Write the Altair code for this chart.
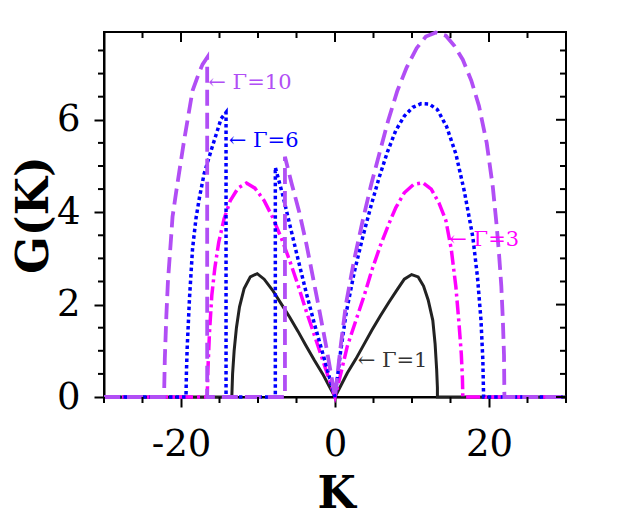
import altair as alt
import pandas as pd

# ---- data ----
k1 = [-30, -13.4, -13.3, -13.1, -12.8, -12.4, -11.8, -11.0, -10.1, -9.2, -8.1, -7.0, -5.9, -4.8, -3.8, -2.7, -1.6, -0.8, 0,
      0.8, 1.6, 2.7, 3.8, 4.8, 5.9, 7.0, 8.1, 9.0, 9.95, 10.8, 11.5, 12.1, 12.7, 13.0, 13.2, 13.3, 13.3, 30]
g1 = [0, 0, 0.5, 1.0, 1.5, 1.95, 2.35, 2.6, 2.67, 2.55, 2.31, 2.02, 1.73, 1.42, 1.12, 0.8, 0.5, 0.25, 0,
      0.26, 0.52, 0.82, 1.15, 1.45, 1.76, 2.05, 2.33, 2.55, 2.65, 2.6, 2.4, 2.1, 1.66, 1.15, 0.6, 0.2, 0, 0]

k3 = [-30, -16.6, -16.5, -16.3, -16.0, -15.6, -15.1, -14.4, -13.6, -12.6, -11.5, -10.4, -9.2, -8.1, -7.0, -5.9, -4.8,
      -3.8, -2.7, -1.6, -0.8, 0, 0.8, 1.6, 2.7, 3.8, 4.8, 5.9, 7.0, 7.9, 9.0, 10.2, 11.4, 12.5, 13.5, 14.4, 15.1,
      15.7, 16.1, 16.4, 16.55, 16.6, 30]
g3 = [0, 0, 0.6, 1.4, 2.2, 2.8, 3.35, 3.86, 4.25, 4.52, 4.63, 4.52, 4.25, 3.89, 3.45, 2.96, 2.42,
      1.89, 1.35, 0.8, 0.4, 0, 0.54, 1.1, 1.65, 2.2, 2.75, 3.28, 3.75, 4.1, 4.42, 4.6, 4.64, 4.5, 4.2, 3.82, 3.2,
      2.38, 1.6, 0.94, 0.4, 0, 0]

k6 = [-30, -19.35, -19.3, -19.2, -18.9, -18.5, -18.05, -17.6, -17.0, -16.1, -15.4, -14.8, -14.15, -14.15, -7.75,
      -7.75, -6.8, -5.9, -4.8, -3.8, -2.7, -1.6, -0.8, 0, 0.7, 1.43, 2.5, 3.6, 4.7, 5.75, 6.8, 7.9, 9.0, 10.1, 11.2,
      12.25, 13.3, 14.5, 15.7, 16.8, 17.9, 18.5, 18.96, 19.2, 19.3, 30]
g6 = [0, 0, 0.5, 1.05, 2.13, 3.21, 3.87, 4.32, 4.83, 5.33, 5.7, 6.02, 6.16, 0, 0,
      4.97, 4.38, 3.75, 2.98, 2.3, 1.6, 0.95, 0.47, 0, 0.95, 1.8, 2.7, 3.46, 4.15, 4.76, 5.3, 5.77, 6.08, 6.27, 6.35,
      6.34, 6.22, 5.85, 5.26, 4.45, 3.46, 2.6, 1.66, 0.8, 0, 0]

k10 = [-30, -22.2, -22.1, -21.9, -21.7, -21.3, -21.1, -20.6, -19.6, -18.5, -17.7, -17.2, -16.6, -16.6, -6.5, -6.5,
       -5.6, -4.64, -3.7, -2.9, -2.0, -1.17, -0.5, 0, 0.7, 1.43, 2.5, 3.6, 4.7, 5.75, 6.9, 8.1, 9.3, 10.6, 11.8, 13.1,
       14.4, 15.5, 16.6, 17.7, 18.7, 19.7, 20.5, 21.0, 21.3, 21.6, 21.8, 21.95, 22.0, 30]
g10 = [0, 0, 0.84, 1.77, 2.49, 3.42, 3.9, 4.47, 5.55, 6.63, 7.0, 7.2, 7.35, 0, 0, 5.2,
       4.6, 4.0, 3.3, 2.62, 1.85, 1.12, 0.48, 0, 1.05, 2.02, 2.98, 3.82, 4.6, 5.26, 5.98, 6.63, 7.13, 7.55, 7.8, 7.89,
       7.82, 7.6, 7.3, 6.85, 6.3, 5.5, 4.54, 3.7, 3.1, 2.4, 1.66, 0.9, 0, 0]

label_text = ["← Γ=10", "← Γ=6", "← Γ=3", "← Γ=1"]
label_k = [-16.45, -13.8, 14.85, 2.94]
label_g = [6.8, 5.55, 3.39, 0.79]
label_color = ["#b14ef5", "#0000ff", "#ff00ff", "#333333"]

x_major = [-20, 0, 20]
x_minor = [-30, -25, -15, -10, -5, 5, 10, 15, 25, 30]
y_major = [0, 2, 4, 6]
y_minor = [0.5, 1, 1.5, 2.5, 3, 3.5, 4.5, 5, 5.5, 6.5, 7, 7.5]

W, H = 462, 365
SERIF = "DejaVu Serif"

xscale = alt.Scale(domain=[-30, 30], nice=False, zero=False)
yscale = alt.Scale(domain=[0, 7.9], nice=False, zero=False)

x_axis = alt.Axis(values=x_major, tickSize=10, tickWidth=2, tickColor="black",
                  domainColor="black", domainWidth=2, grid=False,
                  labelFont=SERIF, labelFontSize=37, labelColor="black", labelPadding=19,
                  labelExpr="datum.value + ''", labelOverlap=False, labelFlush=False,
                  title="K", titleFont=SERIF, titleFontSize=44, titleFontWeight="bold",
                  titleColor="black", titleX=232, titleY=110, titleBaseline="alphabetic",
                  titleAlign="center")
y_axis = alt.Axis(values=y_major, tickSize=10, tickWidth=2, tickColor="black",
                  domainColor="black", domainWidth=2, grid=False,
                  labelFont=SERIF, labelFontSize=37, labelColor="black", labelPadding=14,
                  labelExpr="datum.value + ''", labelOverlap=False, labelFlush=False,
                  title="G(K)", titleFont=SERIF, titleFontSize=44, titleFontWeight="bold",
                  titleColor="black", titleX=-57, titleY=H / 2, titleAngle=270,
                  titleBaseline="alphabetic", titleAlign="center")

X = alt.X("K:Q", scale=xscale, axis=x_axis)
Y = alt.Y("G:Q", scale=yscale, axis=y_axis)


def curve(k, g, color, width, dash=None):
    assert len(k) == len(g)
    df = pd.DataFrame({"K": k, "G": g, "i": list(range(len(k)))})
    kw = dict(color=color, strokeWidth=width, clip=False, strokeCap="butt")
    if dash is not None:
        kw["strokeDash"] = dash
    return alt.Chart(df).mark_line(**kw).encode(x=X, y=Y, order="i:Q")


lines = [
    curve(k1, g1, "#222222", 3.0),
    curve(k3, g3, "#ff00ff", 3.5, [14, 4, 3, 4]),
    curve(k6, g6, "#0000ff", 3.5, [3.5, 3]),
    curve(k10, g10, "#b14ef5", 3.8, [16, 7]),
]

xmaj_df = pd.DataFrame({"K": x_major})
xmin_df = pd.DataFrame({"K": x_minor})
ymaj_df = pd.DataFrame({"G": y_major})
ymin_df = pd.DataFrame({"G": y_minor})

rule = dict(color="black", strokeWidth=2, clip=False)
ticks = [
    # bottom minor (outward)
    alt.Chart(xmin_df).mark_rule(**rule).encode(x=X, y=alt.value(H), y2=alt.value(H + 6)),
    # top (inward)
    alt.Chart(xmin_df).mark_rule(**rule).encode(x=X, y=alt.value(0), y2=alt.value(6)),
    alt.Chart(xmaj_df).mark_rule(**rule).encode(x=X, y=alt.value(0), y2=alt.value(10)),
    # left minor (outward)
    alt.Chart(ymin_df).mark_rule(**rule).encode(y=Y, x=alt.value(0), x2=alt.value(-6)),
    # right (inward)
    alt.Chart(ymin_df).mark_rule(**rule).encode(y=Y, x=alt.value(W), x2=alt.value(W - 6)),
    alt.Chart(ymaj_df).mark_rule(**rule).encode(y=Y, x=alt.value(W), x2=alt.value(W - 10)),
]

lab_df = pd.DataFrame({"K": label_k, "G": label_g, "t": label_text, "c": label_color})
labels = alt.Chart(lab_df).mark_text(align="left", baseline="middle", font=SERIF, fontSize=21).encode(
    x=X, y=Y, text="t:N", color=alt.Color("c:N", scale=None)
)

chart = alt.layer(*lines, *ticks, labels).properties(
    width=W, height=H,
    autosize=alt.AutoSizeParams(type="none"),
    padding={"left": 96, "top": 24, "right": 40, "bottom": 115},
    background="white",
).configure_view(stroke="black", strokeWidth=2)

chart.save("out.html", embed_options={"renderer": "svg", "actions": False})
